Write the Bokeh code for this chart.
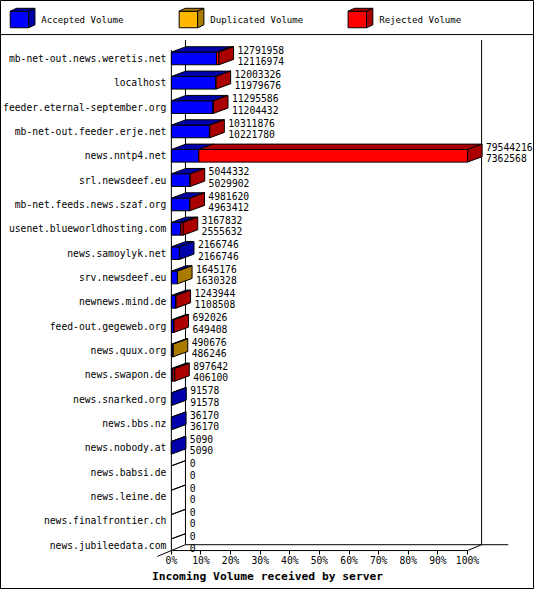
from bokeh.plotting import figure
from bokeh.models import Range1d, FixedTicker, PrintfTickFormatter
from bokeh.embed import file_html
from bokeh.resources import INLINE
from bokeh.core.properties import value

# ---------------- data ----------------
servers = ["mb-net-out.news.weretis.net", "localhost", "feeder.eternal-september.org",
           "mb-net-out.feeder.erje.net", "news.nntp4.net", "srl.newsdeef.eu",
           "mb-net.feeds.news.szaf.org", "usenet.blueworldhosting.com", "news.samoylyk.net",
           "srv.newsdeef.eu", "newnews.mind.de", "feed-out.gegeweb.org", "news.quux.org",
           "news.swapon.de", "news.snarked.org", "news.bbs.nz", "news.nobody.at",
           "news.babsi.de", "news.leine.de", "news.finalfrontier.ch", "news.jubileedata.com"]
offered = [12791958, 12003326, 11295586, 10311876, 79544216, 5044332, 4981620, 3167832,
           2166746, 1645176, 1243944, 692026, 490676, 897642, 91578, 36170, 5090, 0, 0, 0, 0]
accepted = [12116974, 11979676, 11204432, 10221780, 7362568, 5029902, 4963412, 2555632,
            2166746, 1630328, 1108508, 649408, 486246, 406100, 91578, 36170, 5090, 0, 0, 0, 0]
duplicated = [0, 0, 0, 0, 0, 0, 0, 0, 0, 14848, 0, 0, 4430, 0, 0, 0, 0, 0, 0, 0, 0]
rejected = [674984, 23650, 91154, 90096, 72181648, 14430, 18208, 612200, 0, 0, 135436,
            42618, 0, 491542, 0, 0, 0, 0, 0, 0, 0]
series_names = ["Accepted Volume", "Duplicated Volume", "Rejected Volume"]
front_colors = ["#0000FF", "#FFB700", "#FF0000"]
dark_colors = ["#0000AA", "#AA7A00", "#AA0000"]
pct_ticks = [0, 10, 20, 30, 40, 50, 60, 70, 80, 90, 100]
x_title = "Incoming Volume received by server"

# ---------------- geometry (reference pixel space 550x605) ----------------
W, H = 534, 589
REF_W, REF_H = 550, 605
SC = W / REF_W
X0, PX_PER_PCT = 176.0, 3.05       # 0% at x=176, 100% at x=481
Y0, PX_PER_ROW = 59.5, 25.0        # row 0 centre


def px2x(X):
    return (X - X0) / PX_PER_PCT


def px2y(Y):
    return (Y - Y0) / PX_PER_ROW


DX = 15.0 / PX_PER_PCT      # 3-D depth (x, percent)
DY = 5.5 / PX_PER_ROW       # 3-D depth (y, rows)
HALF = 6.5 / PX_PER_ROW     # half height of bar front
FONT_NAME = "DejaVu Sans Mono"
FONT = value(FONT_NAME)
fs = lambda s: "%.1fpx" % (s * SC)

p = figure(width=W, height=H, output_backend="svg", toolbar_location=None,
           x_range=Range1d(px2x(0), px2x(REF_W)),
           y_range=Range1d(px2y(REF_H), px2y(0)),
           min_border=0, min_border_left=0, min_border_right=0,
           min_border_top=0, min_border_bottom=0)
p.background_fill_color = "white"
p.border_fill_color = "white"
p.outline_line_color = "black"
p.outline_line_width = 1
p.grid.visible = False

# ---------------- axes ----------------
xa = p.xaxis[0]
xa.fixed_location = px2y(565)
xa.ticker = FixedTicker(ticks=pct_ticks, minor_ticks=[])
xa.formatter = PrintfTickFormatter(format="%d%%")
xa.axis_line_color = None
xa.major_tick_in = 0
xa.major_tick_out = 4
xa.minor_tick_line_color = None
xa.major_tick_line_color = "black"
xa.major_label_standoff = 0
xa.major_label_text_font = FONT_NAME
xa.major_label_text_font_size = fs(10)
xa.major_label_text_color = "black"

ya = p.yaxis[0]
ya.fixed_location = 0
ya.ticker = FixedTicker(ticks=list(range(len(servers))), minor_ticks=[])
ya.major_label_overrides = {i: s for i, s in enumerate(servers)}
ya.axis_line_color = None
ya.major_tick_line_color = None
ya.minor_tick_line_color = None
ya.major_tick_in = 0
ya.major_tick_out = 0
ya.major_label_standoff = 5
ya.major_label_text_font = FONT_NAME
ya.major_label_text_font_size = fs(10)
ya.major_label_text_color = "black"

# ---------------- frame lines (walls / floor) ----------------
DXW = 14.5 / PX_PER_PCT
DYW = 6.0 / PX_PER_ROW
seg = [
    (0, px2y(51), 0, px2y(565)),                               # front axis
    (DXW, px2y(40.5), DXW, px2y(565) - DYW),                   # back-left wall
    (100 + DXW, px2y(40.5), 100 + DXW, px2y(565) - DYW),       # back-right wall
    (DXW, px2y(565) - DYW, px2x(523), px2y(565) - DYW),        # back floor
    (0, px2y(565), 100, px2y(565)),                            # front floor
    (100, px2y(565), 100 + DXW, px2y(565) - DYW),              # right floor edge
    (-DXW, px2y(565) + DYW, DXW, px2y(565) - DYW),             # left floor edge
    (px2x(0), px2y(35), px2x(REF_W), px2y(35)),                # legend separator
]
p.segment(x0=[s[0] for s in seg], y0=[s[1] for s in seg],
          x1=[s[2] for s in seg], y1=[s[3] for s in seg],
          line_color="black", line_width=1)

# ---------------- bars ----------------
vmax = max(offered)
xs, ys, cols = [], [], []
for i in range(len(servers)):
    vals = [accepted[i], duplicated[i], rejected[i]]
    top, bot = i - HALF, i + HALF
    nz = [k for k, v in enumerate(vals) if v > 0]
    start = 0.0
    if not nz:
        xs.append([0, 0, DX, DX]); ys.append([top, top, top - DY, top - DY])
        cols.append(dark_colors[0])
        continue
    for k in nz:
        w = vals[k] / vmax * 100.0
        x0, x1 = start, start + w
        xs.append([x0, x1, x1, x0]); ys.append([bot, bot, top, top]); cols.append(front_colors[k])
        xs.append([x0, x1, x1 + DX, x0 + DX]); ys.append([top, top, top - DY, top - DY])
        cols.append(dark_colors[k])
        start = x1
    k = nz[-1]
    xs.append([start, start + DX, start + DX, start])
    ys.append([top, top - DY, bot - DY, bot])
    cols.append(dark_colors[k])

p.patches(xs=xs, ys=ys, fill_color=cols, line_color="black", line_width=1)

# ---------------- value labels ----------------
tx, ty, tt = [], [], []
for i in range(len(servers)):
    end = offered[i] / vmax * 100.0
    x = end + 19.0 / PX_PER_PCT
    tx += [x, x]
    ty += [i - 9.0 / PX_PER_ROW, i + 2.5 / PX_PER_ROW]
    tt += [str(offered[i]), str(accepted[i])]
p.text(x=tx, y=ty, text=tt, text_font=FONT, text_font_size=fs(10),
       text_baseline="middle", text_align="left", text_color="black")

# ---------------- legend (3-D boxes) ----------------
lxs, lys, lcols = [], [], []
ltx, lty = [], []
for k, name in enumerate(series_names):
    L = 10 + 174 * k
    R = L + 19
    T, B = 11, 28
    d, e = 6.5, 3
    lxs.append([px2x(L), px2x(R), px2x(R), px2x(L)])
    lys.append([px2y(B), px2y(B), px2y(T), px2y(T)]); lcols.append(front_colors[k])
    lxs.append([px2x(L), px2x(R), px2x(R + d), px2x(L + d)])
    lys.append([px2y(T), px2y(T), px2y(T - e), px2y(T - e)]); lcols.append(dark_colors[k])
    lxs.append([px2x(R), px2x(R + d), px2x(R + d), px2x(R)])
    lys.append([px2y(T), px2y(T - e), px2y(B - e), px2y(B)]); lcols.append(dark_colors[k])
    ltx.append(px2x(L + 32)); lty.append(px2y(20))
p.patches(xs=lxs, ys=lys, fill_color=lcols, line_color="black", line_width=1)
p.text(x=ltx, y=lty, text=series_names, text_font=FONT, text_font_size=fs(9.4),
       text_baseline="middle", text_align="left", text_color="black")

# ---------------- x title ----------------
p.text(x=[px2x(REF_W / 2)], y=[px2y(592)], text=[x_title], text_font=FONT,
       text_font_size=fs(11.6), text_font_style="bold",
       text_baseline="middle", text_align="center", text_color="black")

open("out.html", "w").write(file_html(p, INLINE))
